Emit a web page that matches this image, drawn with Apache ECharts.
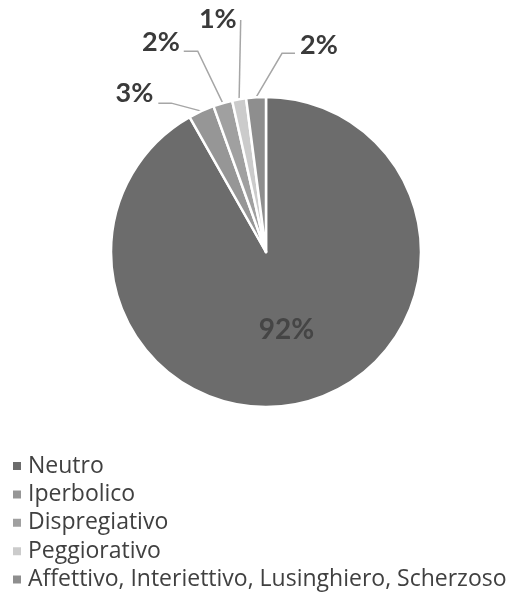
<!DOCTYPE html>
<html>
<head>
<meta charset="utf-8">
<script src="https://cdn.jsdelivr.net/npm/echarts@6/dist/echarts.min.js"></script>
<style>
html,body{margin:0;padding:0;background:#fff;}
#chart{width:512px;height:596px;}
</style>
</head>
<body>
<div id="chart"></div>
<script>
const categories = ['Neutro', 'Iperbolico', 'Dispregiativo', 'Peggiorativo', 'Affettivo, Interiettivo, Lusinghiero, Scherzoso'];
const values = [91.8, 2.7, 2.0, 1.45, 2.05];
const colors = ['#6c6c6c', '#969696', '#a0a0a0', '#cbcbcb', '#8e8e8e'];

// label placement styles (offsets relative to the slice anchor)
const labelOffsets = {
  1: {bend: [-30, -8], end: [-43, -8], align: 'right', text: [-5, -10]},
  2: {bend: [-25, -52], end: [-39, -52], align: 'right', text: [-4, -9]},
  3: {bend: [1.6, -79.4], end: [1.6, -79.4], align: 'right', text: [-4, -1]},
  4: {bend: [26, -44], end: [39, -44], align: 'left', text: [5, -8]}
};

const FONT = 'Lato, "Open Sans", sans-serif';
const LEGEND_FONT = '"Open Sans", sans-serif';

const chart = echarts.init(document.getElementById('chart'), null, {renderer: 'canvas'});

const data = categories.map((n, i) => {
  const item = {name: n, value: values[i], itemStyle: {color: colors[i]}};
  if (i === 0) {
    item.label = {position: 'inside', color: '#454545', fontSize: 28, fontWeight: 'bold'};
    item.labelLine = {show: false};
  }
  return item;
});

chart.setOption({
  animation: false,
  legend: {
    orient: 'vertical',
    left: 11,
    top: 454.5,
    height: 141,
    padding: 0,
    icon: 'rect',
    itemWidth: 10,
    itemHeight: 10,
    itemGap: 5.4,
    data: categories,
    textStyle: {fontFamily: LEGEND_FONT, fontSize: 23, lineHeight: 23, color: '#404040', padding: [0, 0, 0, 1]}
  },
  series: [{
    type: 'pie',
    center: [266, 252],
    radius: 155,
    startAngle: 90,
    clockwise: true,
    avoidLabelOverlap: false,
    silent: true,
    itemStyle: {borderColor: '#ffffff', borderWidth: 2.5},
    label: {
      show: true,
      position: 'outside',
      formatter: p => Math.round(p.percent) + '%',
      fontFamily: FONT,
      fontSize: 27,
      fontWeight: 'bold',
      color: '#3a3a3a'
    },
    labelLine: {show: true, length: 20, length2: 10, lineStyle: {color: '#a6a6a6', width: 1.5}},
    labelLayout: function (p) {
      const o = labelOffsets[p.dataIndex];
      if (!o || !p.labelLinePoints) return {};
      const a = p.labelLinePoints[0];
      const b = [a[0] + o.bend[0], a[1] + o.bend[1]];
      const e = [a[0] + o.end[0], a[1] + o.end[1]];
      return {
        x: e[0] + o.text[0],
        y: e[1] + o.text[1],
        align: o.align,
        verticalAlign: 'middle',
        labelLinePoints: [a, b, e]
      };
    },
    data: data
  }]
});
</script>
</body>
</html>
